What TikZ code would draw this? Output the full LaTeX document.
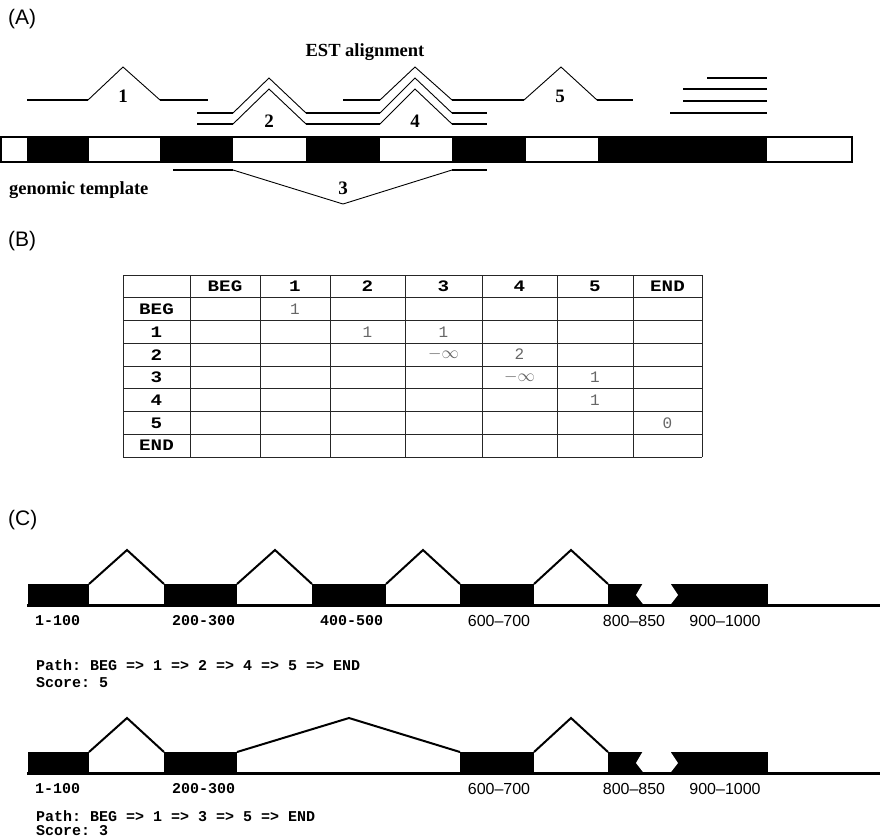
\documentclass[tikz,border=0pt]{standalone}
\usepackage{fontspec}
\setmainfont{Liberation Serif}
\setsansfont{Liberation Sans}
\setmonofont{Liberation Mono}
\newfontfamily\monowide[FakeStretch=1.2]{Liberation Mono}
\begin{document}
\begin{tikzpicture}[x=1pt,y=-1pt,
  flat/.style={line width=2.4pt},
  diag/.style={line width=0.9pt},
  barline/.style={draw=black,line width=1.1pt},
  tline/.style={line width=0.9pt,draw=black!85},
  cline/.style={line width=2pt,line join=miter},
  base/.style={line width=3pt},
  panel/.style={font=\sffamily\fontsize{21}{21}\selectfont,anchor=west,inner sep=0pt},
  serifb/.style={font=\bfseries\fontsize{18.5}{18.5}\selectfont,inner sep=0pt},
  numb/.style={font=\bfseries\fontsize{19}{19}\selectfont,inner sep=0pt},
  thead/.style={font=\monowide\bfseries\fontsize{16}{16}\selectfont,inner sep=0pt},
  tval/.style={font=\ttfamily\fontsize{16}{16}\selectfont,text=black!60,inner sep=0pt},
  monolab/.style={font=\ttfamily\bfseries\fontsize{15}{15}\selectfont,inner sep=0pt,anchor=west},
  sanslab/.style={font=\sffamily\fontsize{16}{16}\selectfont,inner sep=0pt},
]
\useasboundingbox (0,0) rectangle (880,839);

% ---------------- Panel A ----------------
\node[panel] (lblA) at (8,19) {(A)};
\node[serifb] (estt) at (365,52) {EST alignment};
\node[serifb,anchor=west] (gent) at (9,190) {genomic template};

% genomic template bar
\draw[barline,fill=white] (1,137) rectangle (852,162);
\foreach \a/\b in {27/89,160/233,306/380,452/526,598/767}
  \fill (\a,137) rectangle (\b,162);
\draw[barline] (1,137) rectangle (852,162);

% EST 1
\draw[flat] (27,100) -- (88,100);
\draw[diag] (88,100) -- (123,67) -- (160,100);
\draw[flat] (160,100) -- (208,100);
% EST 2 / 4 (two lower lines)
\foreach \o in {0,11}{
  \draw[flat] (197,113+\o) -- (233,113+\o);
  \draw[diag] (233,113+\o) -- (269,78+\o) -- (306,113+\o);
  \draw[flat] (306,113+\o) -- (380,113+\o);
  \draw[diag] (380,113+\o) -- (415,78+\o) -- (452,113+\o);
  \draw[flat] (452,113+\o) -- (487,113+\o);
}
% EST 4 / 5 (top line)
\draw[flat] (343,100) -- (380,100);
\draw[diag] (380,100) -- (415,67) -- (452,100);
\draw[flat] (452,100) -- (524,100);
\draw[diag] (524,100) -- (561,67) -- (597,100);
\draw[flat] (597,100) -- (633,100);
% EST 3 (below)
\draw[flat] (173,170) -- (233,170);
\draw[diag] (233,170) -- (343,204) -- (452,170);
\draw[flat] (452,170) -- (487,170);
% stack on last exon
\draw[flat] (707,78) -- (767,78);
\draw[flat] (683,89) -- (767,89);
\draw[flat] (683,101) -- (767,101);
\draw[flat] (670,113) -- (767,113);

\node[numb] (n1) at (123,96) {1};
\node[numb] (n2) at (269,121) {2};
\node[numb] (n4) at (415,121) {4};
\node[numb] (n5) at (560,96) {5};
\node[numb] (n3) at (343,188) {3};

% ---------------- Panel B ----------------
\node[panel] (lblB) at (8,241) {(B)};
\foreach \x in {123,190,260,330,405,482,557,633,702}
  \draw[tline] (\x,275) -- (\x,457);
\foreach \i in {0,...,8}
  \draw[tline] (123,275+\i*22.75) -- (702,275+\i*22.75);
% headers
\foreach \c/\t [count=\k] in {225/BEG,295/1,367.5/2,443.5/3,519.5/4,595/5,667.5/END}
  \node[thead] (hc\k) at (\c,286.4) {\t};
\foreach \t [count=\k] in {BEG,1,2,3,4,5,END}
  \node[thead] (hr\k) at (156.5,286.4+\k*22.75) {\t};
% values
\node[tval] (v1) at (295,309.1) {1};
\node[tval] (v2) at (367.5,331.9) {1};
\node[tval] (v3) at (443.5,331.9) {1};
\node[tval] (v4) at (443.5,354.6) {$-\infty$};
\node[tval] (v5) at (519.5,354.6) {2};
\node[tval] (v6) at (519.5,377.4) {$-\infty$};
\node[tval] (v7) at (595,377.4) {1};
\node[tval] (v8) at (595,400.1) {1};
\node[tval] (v9) at (667.5,422.9) {0};

% ---------------- Panel C ----------------
\node[panel] (lblC) at (8,520) {(C)};

% row 1
\foreach \a/\b in {28/89,164/237,312/386,460/534,608/768}
  \fill (\a,584) rectangle (\b,606);
\fill[white] (643,583) -- (636,595) -- (643,604) -- (671,604) -- (678,595) -- (670,583) -- cycle;
\draw[cline] (89,584) -- (127,550) -- (164,584);
\draw[cline] (237,584) -- (275,550) -- (312,584);
\draw[cline] (386,584) -- (423,550) -- (460,584);
\draw[cline] (534,584) -- (571,550) -- (608,584);
\draw[base] (27,605) -- (880,605);
\node[monolab] (r1a) at (35,621) {1-100};
\node[monolab] (r1b) at (172,621) {200-300};
\node[monolab] (r1c) at (320,621) {400-500};
\node[sanslab] (r1d) at (499,621) {600–700};
\node[sanslab] (r1e) at (634,621) {800–850};
\node[sanslab] (r1f) at (725,621) {900–1000};
\node[monolab] (p1) at (36,665) {Path: BEG => 1 => 2 => 4 => 5 => END};
\node[monolab] (s1) at (36,683) {Score: 5};

% row 2
\foreach \a/\b in {28/89,164/237,460/534,608/768}
  \fill (\a,752) rectangle (\b,774);
\fill[white] (643,751) -- (636,763) -- (643,772) -- (671,772) -- (678,763) -- (670,751) -- cycle;
\draw[cline] (89,752) -- (127,718) -- (164,752);
\draw[cline] (237,752) -- (349,718) -- (460,752);
\draw[cline] (534,752) -- (571,718) -- (608,752);
\draw[base] (27,773) -- (880,773);
\node[monolab] (r2a) at (35,789) {1-100};
\node[monolab] (r2b) at (172,789) {200-300};
\node[sanslab] (r2d) at (499,789) {600–700};
\node[sanslab] (r2e) at (634,789) {800–850};
\node[sanslab] (r2f) at (725,789) {900–1000};
\node[monolab] (p2) at (36,816) {Path: BEG => 1 => 3 => 5 => END};
\node[monolab] (s2) at (36,831) {Score: 3};
\end{tikzpicture}
\end{document}
